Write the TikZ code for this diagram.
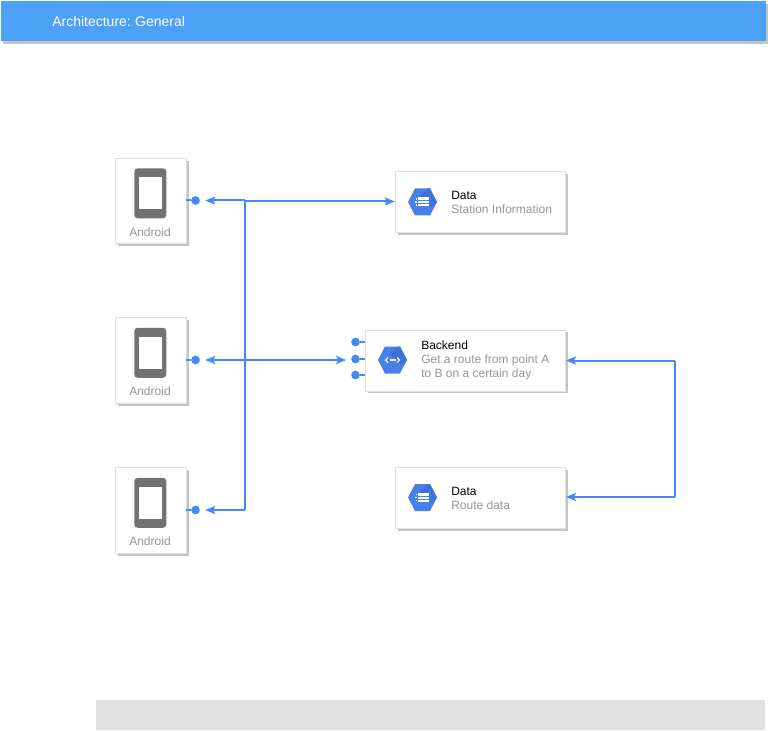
\documentclass[tikz,border=0pt]{standalone}
\usepackage{fontspec}
\setmainfont{Liberation Sans}
\usepackage{xcolor}
\usetikzlibrary{arrows.meta,shadows}
\definecolor{barblue}{RGB}{76,161,247}
\definecolor{flowblue}{RGB}{70,136,246}
\definecolor{hexblue}{RGB}{72,128,235}
\definecolor{hexshade}{RGB}{64,113,215}
\definecolor{phonegrey}{RGB}{114,114,114}
\definecolor{subgrey}{RGB}{150,150,150}
\definecolor{shadegrey}{RGB}{196,196,196}
\definecolor{edgegrey}{RGB}{224,224,224}
\tikzset{
  card/.style={draw=edgegrey,line width=0.5pt,fill=white,anchor=north west,inner sep=0pt,
    drop shadow={shadow xshift=1.9pt,shadow yshift=-1.9pt,fill=shadegrey,opacity=1}},
  cardtext/.style={anchor=west,inner sep=0pt,align=left,font=\fontsize{9}{10.5}\selectfont},
  cardlabel/.style={inner sep=0pt,text=subgrey,font=\fontsize{9}{10.5}\selectfont},
  flow/.style={draw=flowblue,line width=1.5pt},
  flowtips/.style={flow,{Stealth[length=7.5pt,width=6pt,inset=1.5pt]}-{Stealth[length=7.5pt,width=6pt,inset=1.5pt]}},
  flowtip/.style={flow,-{Stealth[length=7.5pt,width=6pt,inset=1.5pt]}},
  port/.style={circle,fill=flowblue,minimum size=6.5pt,inner sep=0pt},
  phone/.pic={
    \fill [phonegrey,rounded corners=2.5pt] (-16,-25) rectangle (16,25);
    \fill [white] (-11.5,-16) rectangle (11.5,16);
  },
  hexicon/.pic={
    \fill [hexblue] (-14.5,0) -- (-7.5,-13.5) -- (7.5,-13.5) -- (14.5,0) -- (7.5,13.5) -- (-7.5,13.5) -- cycle;
    \fill [hexshade] (14.5,0) -- (7.5,13.5) -- (5,13.5) -- (-3,6) -- (8,-5) -- cycle;
  },
}
\begin{document}
\begin{tikzpicture}[x=0.75pt,y=0.75pt,yscale=-1,xscale=1]
\useasboundingbox [fill=white] (0,0) rectangle (768,731);

%Header bar
\draw (0.5,1) node [anchor=north west,inner sep=0pt,fill=barblue,minimum width=765.5*0.75pt,minimum height=40*0.75pt,
  drop shadow={shadow xshift=1.8pt,shadow yshift=-1.8pt,fill=shadegrey,opacity=1}] (headerbar) {};
\draw (52,21) node [anchor=west,inner sep=0pt,text=white,font=\fontsize{10.5}{12}\selectfont] (headertitle) {Architecture:\hspace{-0.6pt} General};
%Footer bar
\draw (95.5,700) node [anchor=north west,inner sep=0pt,fill=edgegrey,minimum width=669.5*0.75pt,minimum height=30*0.75pt] (footerbar) {};

%Cards
\draw (114.8,157.8) node [card,minimum width=71*0.75pt,minimum height=85.5*0.75pt] (android1) {};
\draw (114.8,317.3) node [card,minimum width=71*0.75pt,minimum height=86*0.75pt] (android2) {};
\draw (114.8,467.3) node [card,minimum width=71*0.75pt,minimum height=86*0.75pt] (android3) {};
\draw (394.8,170.8) node [card,minimum width=170.5*0.75pt,minimum height=61.5*0.75pt] (data1) {};
\draw (364.8,329.5) node [card,minimum width=200.5*0.75pt,minimum height=61*0.75pt] (backend) {};
\draw (394.8,466.8) node [card,minimum width=170.5*0.75pt,minimum height=61.5*0.75pt] (data2) {};

%Icons
\pic at (150.3,193.3) {phone};
\pic at (150.3,352.8) {phone};
\pic at (150.3,502.8) {phone};
\pic at (422.5,202) {hexicon};
\pic at (392.5,360) {hexicon};
\pic at (422.5,497.5) {hexicon};
%Icon marks
\foreach \cy in {202,497.5} {
  \fill [white] (418,\cy-4.5) rectangle (429,\cy+4.5);
  \draw [hexblue,line width=0.5pt] (418,\cy-1.5) -- (429,\cy-1.5) (418,\cy+1.5) -- (429,\cy+1.5);
  \fill [white] (414.5,\cy-0.8) rectangle (417,\cy+0.8);
  \fill [white] (415.5,\cy-3.8) rectangle (417,\cy-2.2);
  \fill [white] (415.5,\cy+2.2) rectangle (417,\cy+3.8);
}
\draw [white,line width=0.8pt] (388,357.5) -- (385.5,360) -- (388,362.5);
\draw [white,line width=0.8pt] (397,357.5) -- (399.5,360) -- (397,362.5);
\draw [white,line width=0.8pt] (389.5,360) -- (395.5,360);

% Text Node
\draw (150,232) node [cardlabel] (android1label) {Android};
\draw (150,391) node [cardlabel] (android2label) {Android};
\draw (150,541) node [cardlabel] (android3label) {Android};
\draw (451,202) node [cardtext] (data1text) {Data\\ \textcolor{subgrey}{Station Information}};
\draw (421,360.5) node [cardtext] (backendtext) {Backend\\ \textcolor{subgrey}{Get a route from point A}\\ \textcolor{subgrey}{to B on a certain day}};
\draw (451,498) node [cardtext] (data2text) {Data\\ \textcolor{subgrey}{Route data}};

%Ports
\draw (195.5,200.5) node [port] (android1port) {};
\draw (195.5,360) node [port] (android2port) {};
\draw (195.5,510) node [port] (android3port) {};
\draw (355.5,342) node [port] (backendport1) {};
\draw (355.5,359) node [port] (backendport2) {};
\draw (355.5,375) node [port] (backendport3) {};

%Port stubs
\draw [flow] (android1port) -- (android1port -| android1.east);
\draw [flow] (android2port) -- (android2port -| android2.east);
\draw [flow] (android3port) -- (android3port -| android3.east);
\draw [flow] (backendport1) -- (backendport1 -| backend.west);
\draw [flow] (backendport2) -- (backendport2 -| backend.west);
\draw [flow] (backendport3) -- (backendport3 -| backend.west);

%Bus
\coordinate (bustop) at (245,200.5);
\coordinate (busbottom) at (245,510);
\coordinate (busdata) at (245,201.5);
\coordinate (routecorner) at (675,360.5);
\coordinate (datacorner) at (675,497);
\draw [flow] (bustop) -- (busbottom);
\draw [flowtip,shorten >=3.8pt] (bustop) -- (android1port);
\draw [flowtip,shorten >=3.8pt] (busbottom) -- (android3port);
\draw [flowtip] (busdata) -- (busdata -| data1.west);
\draw [flowtips,shorten <=3.8pt,shorten >=7pt] (android2port) -- (backendport2 |- android2port);
\draw [flowtip] (routecorner) -- (routecorner -| backend.east);
\draw [flow] (routecorner) -- (datacorner);
\draw [flowtip] (datacorner) -- (datacorner -| data2.east);

\end{tikzpicture}
\end{document}
